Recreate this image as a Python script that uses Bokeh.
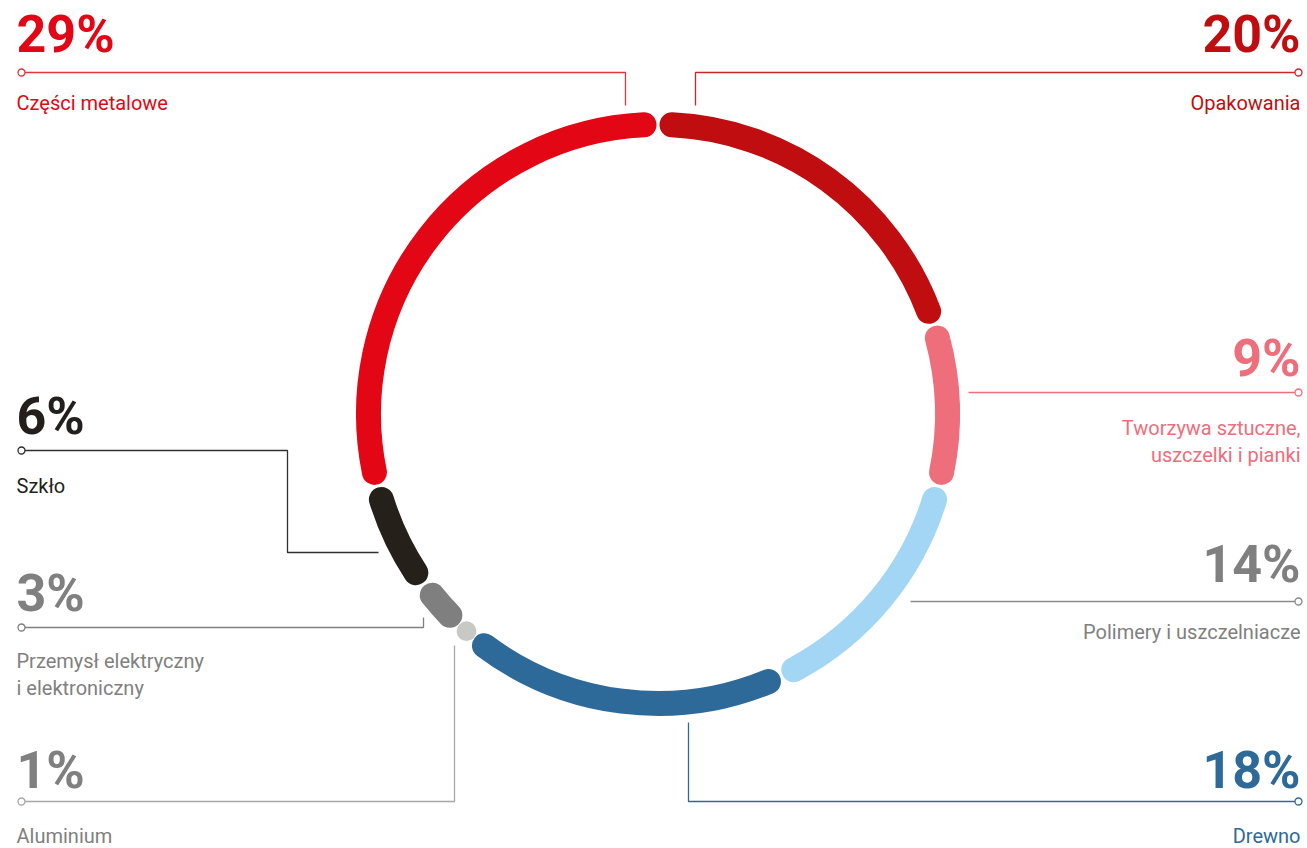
import numpy as np
from bokeh.plotting import figure
from bokeh.models import Range1d
from bokeh.core.properties import value
from bokeh.embed import file_html
from bokeh.resources import INLINE

# ---------------- data (clockwise from 12 o'clock) ----------------
categories = ["Opakowania", "Tworzywa sztuczne", "Polimery i uszczelniacze", "Drewno",
              "Aluminium", "Przemysł elektryczny", "Szkło", "Części metalowe"]
values = [20, 9, 14, 18, 1, 3, 6, 29]
pct_labels = ["20%", "9%", "14%", "18%", "1%", "3%", "6%", "29%"]
label_lines = [["Opakowania"],
               ["Tworzywa sztuczne,", "uszczelki i pianki"],
               ["Polimery i uszczelniacze"],
               ["Drewno"],
               ["Aluminium"],
               ["Przemysł elektryczny", "i elektroniczny"],
               ["Szkło"],
               ["Części metalowe"]]

# ---------------- styles ----------------
seg_colors = ["#BF0D10", "#EE6E7B", "#A2D6F4", "#2E6A99", "#C8C8C5", "#7F7F7F", "#252019", "#E30614"]
text_colors = ["#BF0D10", "#EE6E7B", "#808080", "#2E6A99", "#808080", "#808080", "#231F1C", "#E30614"]
line_colors = ["#C9262A", "#EE6E7B", "#8A8A8A", "#2E6A99", "#A8A8A8", "#808080", "#303030", "#E5323F"]
FONT = "Roboto"
PCT_SIZE, LAB_SIZE = 52, 20
SHIFT = 0.36  # empirical baseline correction (in em)

# layout (screen px): side, percent baseline, label baselines, leader path
layout = [
    ("right", 53,  [110],      [(1298, 72), (695, 72), (695, 105)]),
    ("right", 377, [435, 462], [(1298, 392), (968, 392)]),
    ("right", 583, [639],      [(1298, 601), (910, 601)]),
    ("right", 789, [843],      [(1298, 801), (688, 801), (688, 722)]),
    ("left",  789, [843],      [(21, 801), (454, 801), (454, 645)]),
    ("left",  612, [668, 695], [(21, 627), (423, 627), (423, 617)]),
    ("left",  435, [493],      [(21, 450), (287, 450), (287, 552), (378, 552)]),
    ("left",  53,  [110],      [(21, 72), (625, 72), (625, 105)]),
]

W, H = 1307, 848
p = figure(width=W, height=H, x_range=Range1d(0, W), y_range=Range1d(-H, 0),
           output_backend="svg", toolbar_location=None, min_border=0,
           x_axis_type=None, y_axis_type=None)
p.grid.visible = False
p.outline_line_color = None
p.background_fill_color = "white"
p.border_fill_color = "white"

# ---------------- ring ----------------
cx, cy, R, SW = 657.5, -413.5, 289.5, 25
frac = np.array(values, dtype=float) / sum(values)
cum = np.concatenate([[0.0], np.cumsum(frac)])
t_start = np.pi / 2 - 2 * np.pi * cum[:-1]
t_end = np.pi / 2 - 2 * np.pi * cum[1:]
arclen = 2 * np.pi * R * frac
shrink = (SW / 2 + 1.5) / R

for i in range(len(values)):
    if arclen[i] > SW + 3:
        p.arc(x=cx, y=cy, radius=R, start_angle=t_start[i] - shrink, end_angle=t_end[i] + shrink,
              direction="clock", line_width=SW, line_color=seg_colors[i], line_cap="round")
    else:
        tm = (t_start[i] + t_end[i]) / 2
        p.circle(x=[cx + R * np.cos(tm)], y=[cy + R * np.sin(tm)], radius=arclen[i] / 2 + 0.8,
                 fill_color=seg_colors[i], line_color=None)

# ---------------- labels & leaders ----------------
for i in range(len(values)):
    side, pct_y, lab_ys, path = layout[i]
    tx = 16 if side == "left" else 1300
    p.text(x=[tx], y=[-(pct_y - SHIFT * PCT_SIZE)], text=[pct_labels[i]], text_font=value(FONT),
           text_font_size=f"{PCT_SIZE}px", text_font_style="bold", text_align=side,
           text_baseline="alphabetic", text_color=text_colors[i])
    for ln, ly in zip(label_lines[i], lab_ys):
        p.text(x=[tx], y=[-(ly - SHIFT * LAB_SIZE)], text=[ln], text_font=value(FONT),
               text_font_size=f"{LAB_SIZE}px", text_align=side, text_baseline="alphabetic",
               text_color=text_colors[i])
    xs = [pt[0] for pt in path]
    ys = [-pt[1] for pt in path]
    p.line(xs, ys, line_color=line_colors[i], line_width=1.3)
    p.scatter([xs[0]], [ys[0]], marker="circle", size=7, fill_color="white",
              line_color=line_colors[i], line_width=1.3)

open("out.html", "w").write(file_html(p, INLINE))
